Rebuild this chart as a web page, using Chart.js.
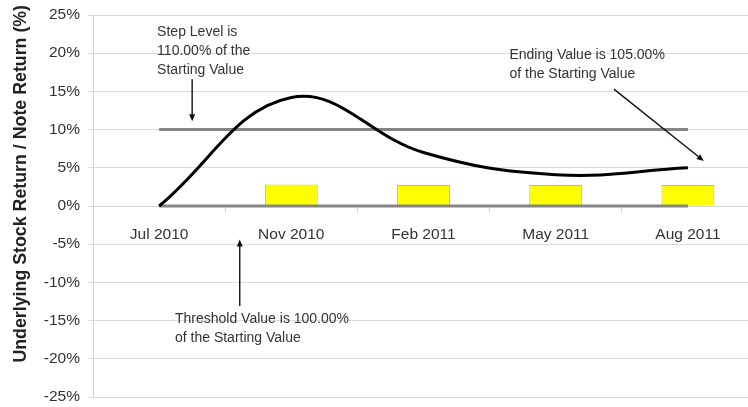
<!DOCTYPE html>
<html><head><meta charset="utf-8">
<script src="https://cdn.jsdelivr.net/npm/chart.js@4"></script>
<style>html,body{margin:0;padding:0;background:#fff;overflow:hidden;width:748px;height:407px}#wrap{width:754px;height:407px;position:relative}</style>
</head><body><div id="wrap"><canvas id="c"></canvas></div>
<script>
// ---- data ----
const categories = ['Jul 2010', 'Nov 2010', 'Feb 2011', 'May 2011', 'Aug 2011'];
const stockReturn = [0, 14.2, 7.0, 4.1, 5.0];          // underlying stock return (%)
const noteReturn = [null, 2.8, 2.75, 2.75, 2.75];      // note return (%)
const stepLevel = [10, 10, 10, 10, 10];                // step level line (%)
const thresholdLevel = [0, 0, 0, 0, 0];                // threshold line (%)
const yMin = -25, yMax = 25, yStep = 5;
const yAxisTitle = 'Underlying Stock Return / Note Return (%)';
const noteTexts = [
  ['Step Level is', '110.00% of the', 'Starting Value'],
  ['Ending Value is 105.00%', 'of the Starting Value'],
  ['Threshold Value is 100.00%', 'of the Starting Value']
];

// ---- annotation placement (category index, value) ----
const notePlacement = [
  {text: [-0.015, 22.7], from: [0.25, 16.6], to: [0.25, 11.1]},
  {text: [2.65, 19.8],   from: [3.44, 15.3], to: [4.12, 5.9]},
  {text: [0.12, -14.75], from: [0.61, -13.1], to: [0.61, -4.4]}
];

const FONT = "'Liberation Sans', Arial, sans-serif";

const annotationPlugin = {
  id: 'notes',
  afterDatasetsDraw(chart) {
    const ctx = chart.ctx, xs = chart.scales.x, ys = chart.scales.y;
    const x0 = xs.getPixelForValue(0), dx = xs.getPixelForValue(1) - x0;
    const px = i => x0 + i * dx, py = v => ys.getPixelForValue(v);
    ctx.save();
    notePlacement.forEach((p, k) => {
      ctx.fillStyle = '#333';
      ctx.font = '14px ' + FONT;
      ctx.textAlign = 'left';
      ctx.textBaseline = 'middle';
      noteTexts[k].forEach((line, j) => ctx.fillText(line, px(p.text[0]), py(p.text[1]) + j * 19));
      // arrow
      const ax = px(p.from[0]), ay = py(p.from[1]), bx = px(p.to[0]), by = py(p.to[1]);
      ctx.strokeStyle = '#111'; ctx.fillStyle = '#111'; ctx.lineWidth = 1.4;
      const ang = Math.atan2(by - ay, bx - ax);
      ctx.beginPath(); ctx.moveTo(ax, ay);
      ctx.lineTo(bx - 5 * Math.cos(ang), by - 5 * Math.sin(ang)); ctx.stroke();
      ctx.beginPath();
      ctx.moveTo(bx, by);
      ctx.lineTo(bx - 7 * Math.cos(ang) + 3 * Math.sin(ang), by - 7 * Math.sin(ang) - 3 * Math.cos(ang));
      ctx.lineTo(bx - 7 * Math.cos(ang) - 3 * Math.sin(ang), by - 7 * Math.sin(ang) + 3 * Math.cos(ang));
      ctx.closePath(); ctx.fill();
    });
    ctx.restore();
  }
};

new Chart(document.getElementById('c'), {
  data: {
    labels: categories,
    datasets: [
      {type: 'line', label: 'Underlying Stock Return', data: stockReturn, borderColor: '#000', borderWidth: 3,
       pointRadius: 0, tension: 0.4, order: 0},
      {type: 'line', label: 'Step Level', data: stepLevel, borderColor: '#858585', borderWidth: 3,
       pointRadius: 0, order: 1},
      {type: 'line', label: 'Threshold', data: thresholdLevel, borderColor: '#858585', borderWidth: 3,
       pointRadius: 0, order: 1},
      {type: 'bar', label: 'Note Return', data: noteReturn, backgroundColor: '#ffff00', borderColor: '#c9c900',
       borderWidth: 1, barPercentage: 0.4, categoryPercentage: 1, order: 2}
    ]
  },
  options: {
    responsive: true, maintainAspectRatio: false, animation: false,
    layout: {padding: {top: 15, bottom: 10, left: 0, right: 0}},
    plugins: {legend: {display: false}, tooltip: {enabled: false}},
    scales: {
      x: {
        type: 'category', position: {y: 0}, offset: true,
        grid: {drawOnChartArea: false, drawTicks: true, tickLength: 5, color: '#d4d4d4', offset: true},
        border: {color: '#d4d4d4'},
        ticks: {color: '#333', font: {family: FONT, size: 15.5}, padding: 14, maxRotation: 0, autoSkip: false},
        afterFit(s) { s.height = 0; s.paddingLeft = 0; s.paddingRight = 0; }
      },
      y: {
        min: yMin, max: yMax,
        ticks: {stepSize: yStep, color: '#333', font: {family: FONT, size: 15.5}, padding: 8,
                callback: v => v + '%'},
        grid: {color: '#dcdcdc', tickLength: 5},
        border: {color: '#d4d4d4'},
        title: {display: true, text: '         ' + yAxisTitle, color: '#222',
                font: {family: FONT, size: 17.8, weight: 'bold'}, padding: {top: 10, bottom: 0}},
        afterFit(s) { s.width = 93; s.paddingTop = 0; s.paddingBottom = 0; }
      }
    }
  },
  plugins: [annotationPlugin]
});
</script>
</body></html>
